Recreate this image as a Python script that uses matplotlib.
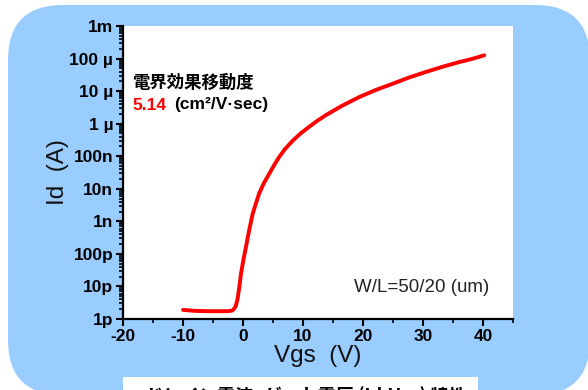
import matplotlib
matplotlib.use("Agg")
import matplotlib.pyplot as plt
import numpy as np
from matplotlib.patches import FancyBboxPatch, Rectangle
from matplotlib.ticker import FixedLocator, MultipleLocator, LogLocator, NullFormatter

plt.rcParams["axes.unicode_minus"] = False

# transfer curve (log10 of Id relative to 1 pA)
vgs = [-10, -8, -6, -4, -2.5, -1.8, -1.5, -1.2, -0.9, -0.6, -0.33, 0.1, 0.5,
       1.0, 1.6, 2.1, 2.7, 3.5, 4.4, 5.2, 6.0, 7.0, 8.3, 9.6, 11.0, 12.4,
       13.8, 16.5, 19.4, 22.2, 25.0, 27.7, 30.5, 33.3, 36.0, 38.2, 40.2]
log_id = [0.28, 0.25, 0.24, 0.24, 0.24, 0.26, 0.31, 0.40, 0.62, 1.00, 1.40,
          1.85, 2.22, 2.70, 3.22, 3.52, 3.86, 4.18, 4.47, 4.73, 4.97, 5.22,
          5.48, 5.70, 5.90, 6.09, 6.26, 6.55, 6.82, 7.04, 7.23, 7.42, 7.59,
          7.75, 7.89, 7.99, 8.10]
id_amps = [10 ** (v - 12) for v in log_id]

ytick_vals = [1e-12, 1e-11, 1e-10, 1e-9, 1e-8, 1e-7, 1e-6, 1e-5, 1e-4, 1e-3]
ytick_labels = ["1p", "10p", "100p", "1n", "10n", "100n", "1 µ", "10 µ", "100 µ", "1m"]
xtick_vals = [-20, -10, 0, 10, 20, 30, 40]

W, H = 588, 390
BLUE = "#99CCFF"
SANS = ["Liberation Sans", "DejaVu Sans"]
CJK = ["Noto Sans CJK JP", "DejaVu Sans"]

fig = plt.figure(figsize=(W / 100, H / 100), dpi=100)
fig.patch.set_facecolor("white")

# background panel in pixel coordinates
bg = fig.add_axes([0, 0, 1, 1], zorder=0)
bg.set_xlim(0, W)
bg.set_ylim(H, 0)
bg.axis("off")
bg.add_patch(FancyBboxPatch((8, 5), 582, 390,
                            boxstyle="round,pad=0,rounding_size=55",
                            facecolor=BLUE, edgecolor="none"))
bg.add_patch(Rectangle((123, 377), 355, 30, facecolor="white", edgecolor="none"))
# caption below the panel, only its top edge is inside the picture
bg.text(145, 386.5, "ドレイン電流−ゲート電圧 (Id-Vgs) 特性", family=CJK,
        fontweight="bold", fontsize=13, va="top", ha="left", color="black")

ax = fig.add_axes([123 / W, 1 - 319 / H, (513 - 123) / W, (319 - 26) / H], zorder=1)
ax.set_facecolor("white")
ax.plot(vgs, id_amps, color="red", lw=2.8, solid_capstyle="round",
        solid_joinstyle="round")

ax.set_yscale("log")
ax.set_xlim(-20, 45)
ax.set_ylim(1e-12, 1e-3)

for s in ("top", "right"):
    ax.spines[s].set_visible(False)
for s in ("left", "bottom"):
    ax.spines[s].set_linewidth(1.6)

ax.xaxis.set_major_locator(FixedLocator(xtick_vals))
ax.xaxis.set_minor_locator(MultipleLocator(5))
ax.set_yticks(ytick_vals)
ax.set_yticklabels(ytick_labels)
ax.yaxis.set_minor_locator(LogLocator(base=10, subs=np.arange(2, 10), numticks=20))
ax.yaxis.set_minor_formatter(NullFormatter())
ax.tick_params(which="major", direction="out", length=5, width=1.5, pad=2,
               labelsize=12.5, colors="black")
ax.tick_params(which="minor", direction="out", length=3, width=1.2)
for lab in ax.get_xticklabels() + ax.get_yticklabels():
    lab.set_fontweight("bold")
    lab.set_family(SANS)

ax.set_xlabel("Vgs  (V)", family=SANS, fontsize=17.5, color="#111111")
ax.xaxis.set_label_coords(0.5, -0.09)
ax.set_ylabel("Id  (A)", family=SANS, fontsize=17.5, color="#111111")
ax.yaxis.set_label_coords(-0.138, 0.5)

fig.text(133 / W, 1 - 83 / H, "電界効果移動度", family=CJK, fontweight="bold",
         fontsize=12.5, va="center", ha="left", zorder=5)
fig.text(132 / W, 1 - 105 / H, "5.14", family=SANS, fontweight="bold",
         fontsize=12.5, color="red", va="center", ha="left", zorder=5)
fig.text(174 / W, 1 - 105 / H, "(cm²/V·sec)", family=SANS, fontweight="bold",
         fontsize=12.5, color="black", va="center", ha="left", zorder=5)
fig.text(354 / W, 1 - 288 / H, "W/L=50/20 (um)", family=SANS,
         fontsize=13.5, color="#222222", va="center", ha="left", zorder=5)

fig.savefig("out.png", dpi=100)
